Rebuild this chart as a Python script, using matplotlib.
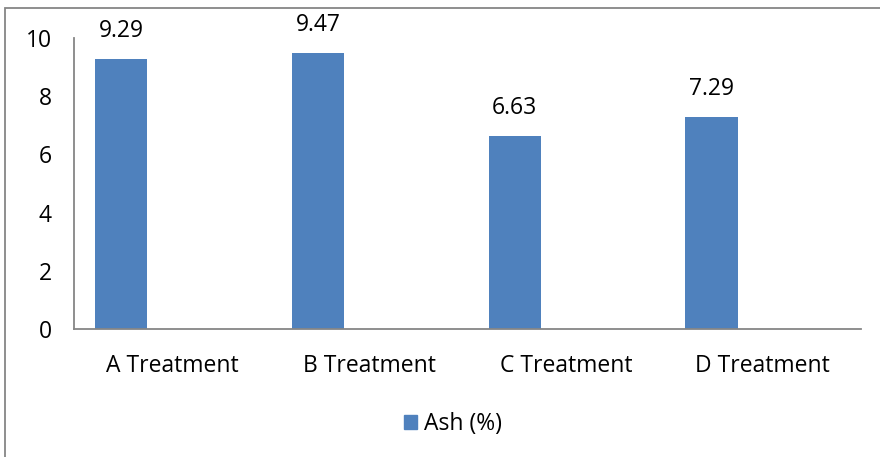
import matplotlib.pyplot as plt
import numpy as np
from matplotlib.patches import Rectangle, Patch

# データ
categories = ["A Treatment", "B Treatment", "C Treatment", "D Treatment"]
ash = [9.29, 9.47, 6.63, 7.29]

plt.rcParams['font.family'] = ['Open Sans', 'DejaVu Sans']
fs = 16.5

fig = plt.figure(figsize=(8.8, 4.57), dpi=100)
ax = fig.add_axes([74 / 880, 1 - 329 / 457, (861 - 74) / 880, (329 - 38) / 457])

x = np.arange(len(categories))
bar_w = 0.265
offset = -0.26  # 空の2系列目の分だけ左へずらす
ax.bar(x + offset, ash, width=bar_w, color="#4F81BD")

# 値ラベル
for xi, v in zip(x, ash):
    ax.text(xi + offset, v + 0.55, f"{v:.2f}", ha="center", va="bottom", fontsize=fs)

ax.set_xlim(-0.5, 3.5)
ax.set_ylim(0, 10)
ax.set_yticks(range(0, 11, 2))
ax.set_xticks(x)
ax.set_xticklabels(categories)
ax.tick_params(axis="both", length=0, labelsize=fs)
ax.tick_params(axis="y", pad=16)
ax.tick_params(axis="x", pad=18)
for s in ["top", "right"]:
    ax.spines[s].set_visible(False)
for s in ["left", "bottom"]:
    ax.spines[s].set_color("#868686")
    ax.spines[s].set_linewidth(1.3)

# 凡例
fig.legend(handles=[Patch(color="#4F81BD", label="Ash (%)")], loc="center",
           bbox_to_anchor=(453 / 880, 1 - 424 / 457), frameon=False, fontsize=fs,
           handlelength=0.6, handleheight=0.6, handletextpad=0.3)

# 外枠
fig.patches.append(Rectangle((5 / 880, -0.1), 2, 1 - 8 / 457 + 0.1, transform=fig.transFigure,
                             fill=False, edgecolor="#868686", linewidth=1.3))

fig.savefig("out.png", dpi=100)
